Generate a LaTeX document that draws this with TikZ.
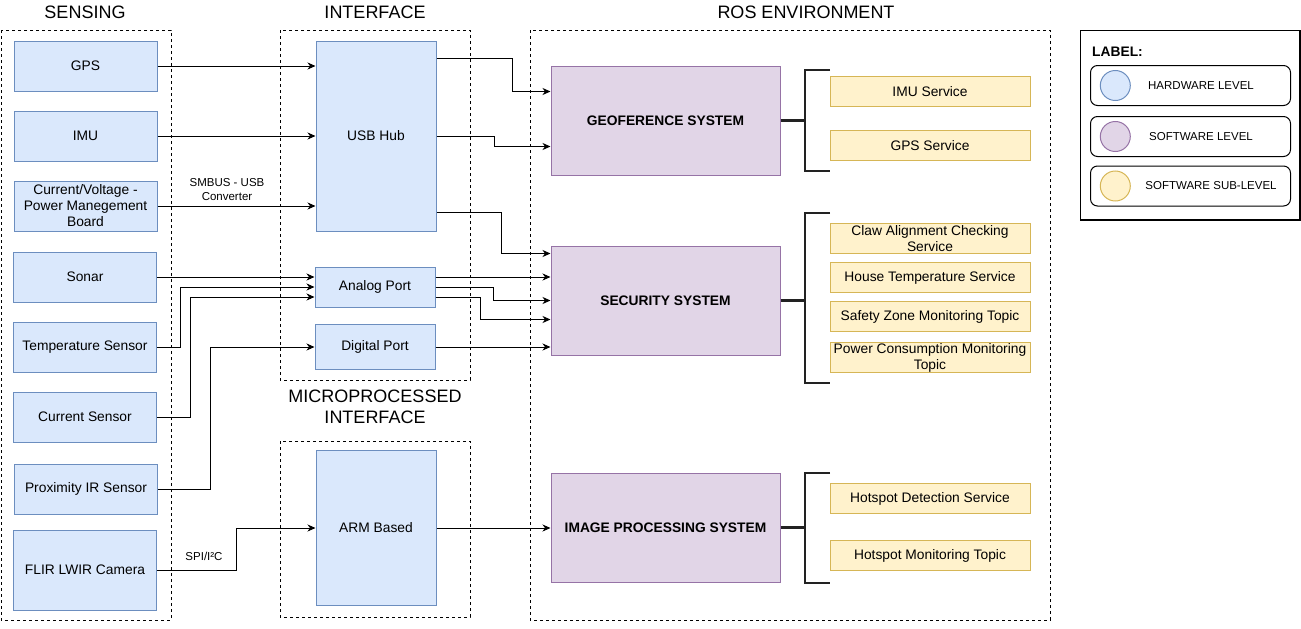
\documentclass[tikz,border=0pt]{standalone}
\usepackage{fontspec}
\setmainfont{Liberation Sans}
\usetikzlibrary{arrows.meta,calc}
\definecolor{hwfill}{HTML}{DAE8FC}
\definecolor{hwline}{HTML}{6C8EBF}
\definecolor{swfill}{HTML}{E1D5E7}
\definecolor{swline}{HTML}{9673A6}
\definecolor{subfill}{HTML}{FFF2CC}
\definecolor{subline}{HTML}{D6B656}
\definecolor{bracecol}{HTML}{222222}
\tikzset{
  base/.style={font=\fontsize{13.8}{16}\selectfont, align=center, inner sep=1pt},
  hw/.style={base, draw=hwline, fill=hwfill, line width=1pt},
  sw/.style={base, draw=swline, fill=swfill, line width=1pt, font=\fontsize{13.8}{16}\selectfont\bfseries},
  sub/.style={base, draw=subline, fill=subfill, line width=1pt, minimum width=200, minimum height=30},
  grp/.style={draw=black, line width=0.9pt, dash pattern=on 3pt off 3pt},
  title/.style={font=\fontsize{18}{21}\selectfont, align=center, inner sep=0pt},
  small/.style={font=\fontsize{11.5}{14}\selectfont, align=center, inner sep=0pt},
  arr/.style={line width=1pt, -{Stealth[length=8pt,width=7pt,inset=2.5pt]}},
  bracket/.style={draw=bracecol, line width=2.2pt},
  legitem/.style={draw=black, line width=1pt, rounded corners=7pt, minimum width=200, minimum height=40},
}
\begin{document}
\begin{tikzpicture}[x=1pt,y=-1pt]
\useasboundingbox (0,0) rectangle (1301,629);

% group frames
\draw[grp] (1,30) rectangle (171,620);
\draw[grp] (280,30) rectangle (470,380);
\draw[grp] (280,441) rectangle (470,617);
\draw[grp] (530,30) rectangle (1050,620);

% titles
\node[title] (tsens) at (85,12) {SENSING};
\node[title] (tint) at (375,12) {INTERFACE};
\node[title] (tros) at (806,12) {ROS ENVIRONMENT};
\node[title] (tmic) at (375,407) {MICROPROCESSED\\INTERFACE};

% sensing
\node[hw, minimum width=143, minimum height=50] (gps) at (85.5,66) {GPS};
\node[hw, minimum width=143, minimum height=50] (imu) at (85.5,136) {IMU};
\node[hw, minimum width=143, minimum height=50] (pwr) at (85.5,206) {Current/Voltage -\\Power Manegement\\Board};
\node[hw, minimum width=143, minimum height=50] (sonar) at (85,277) {Sonar};
\node[hw, minimum width=143, minimum height=50] (temp) at (85,347) {Temperature Sensor};
\node[hw, minimum width=143, minimum height=50] (cur) at (85,417) {Current Sensor};
\node[hw, minimum width=143, minimum height=50] (prox) at (86,489) {Proximity IR Sensor};
\node[hw, minimum width=143, minimum height=80] (flir) at (85,570) {FLIR LWIR Camera};

% interface
\node[hw, minimum width=120, minimum height=190] (usb) at (376,136) {USB Hub};
\node[hw, minimum width=120, minimum height=40] (analog) at (375,287) {Analog Port};
\node[hw, minimum width=120, minimum height=45] (digital) at (375,347) {Digital Port};
\node[hw, minimum width=120, minimum height=155] (arm) at (376,528) {ARM Based};

% ROS systems
\node[sw, minimum width=229, minimum height=109] (geo) at (665.5,120.5) {GEOFERENCE SYSTEM};
\node[sw, minimum width=229, minimum height=109] (sec) at (665.5,300.5) {SECURITY SYSTEM};
\node[sw, minimum width=229, minimum height=109] (img) at (665.5,527.5) {IMAGE PROCESSING SYSTEM};

% services
\node[sub] (imus) at (930,91.5) {IMU Service};
\node[sub] (gpss) at (930,145.5) {GPS Service};
\node[sub] (claw) at (930,238.5) {Claw Alignment Checking\\Service};
\node[sub] (house) at (930,277.5) {House Temperature Service};
\node[sub] (safe) at (930,316.5) {Safety Zone Monitoring Topic};
\node[sub] (powc) at (930,357.5) {Power Consumption Monitoring\\Topic};
\node[sub] (hdet) at (930,498.5) {Hotspot Detection Service};
\node[sub] (hmon) at (930,555.5) {Hotspot Monitoring Topic};

% brackets
\coordinate (gb) at (805,120.5);
\draw[bracket] (geo.east) -- (gb);
\draw[bracket] (830,70) -- (805,70) -- (805,171) -- (830,171);
\coordinate (sb) at (805,300.5);
\draw[bracket] (sec.east) -- (sb);
\draw[bracket] (830,213) -- (805,213) -- (805,383) -- (830,383);
\coordinate (ib) at (805,527.5);
\draw[bracket] (img.east) -- (ib);
\draw[bracket] (830,473) -- (805,473) -- (805,583) -- (830,583);

% helper coordinates
\coordinate (ain1) at ($(analog.west)+(0,-10)$);
\coordinate (ain3) at ($(analog.west)+(0,10)$);
\coordinate (aout1) at ($(analog.east)+(0,-10)$);
\coordinate (aout3) at ($(analog.east)+(0,10)$);
\coordinate (uout1) at ($(usb.north east)+(0,18)$);
\coordinate (uout3) at ($(usb.south east)+(0,-19)$);
\coordinate (gin1) at ($(geo.north west)+(0,26)$);
\coordinate (gin2) at ($(geo.north west)+(0,81)$);
\coordinate (sin1) at ($(sec.north west)+(0,8)$);
\coordinate (sin4) at ($(sec.north west)+(0,74)$);

% sensing -> interface
\draw[arr] (gps.east) -- (gps.east -| usb.west);
\draw[arr] (imu.east) -- (imu.east -| usb.west);
\draw[arr] (pwr.east) -- (pwr.east -| usb.west);
\node[small] (smb) at (227,190) {SMBUS - USB\\Converter};
\draw[arr] (sonar.east) -- (ain1);
\draw[arr] (temp.east) -- ++(23,0) |- (analog.west);
\draw[arr] (cur.east) -- ++(33,0) |- (ain3);
\draw[arr] (prox.east) -- ++(52,0) |- (digital.west);
\draw[arr] (flir.east) -- ++(79,0) |- (arm.west);
\node[small] (spi) at (204,556) {SPI/I²C};

% interface -> ROS
\draw[arr] (uout1) -- ++(76,0) |- (gin1);
\draw[arr] (usb.east) -- ++(58,0) |- (gin2);
\draw[arr] (uout3) -- ++(65,0) |- (sin1);
\draw[arr] (aout1) -- (aout1 -| sec.west);
\draw[arr] (analog.east) -- ++(58,0) |- (sec.west);
\draw[arr] (aout3) -- ++(45,0) |- (sin4);
\draw[arr] (digital.east) -- (digital.east -| sec.west);
\draw[arr] (arm.east) -- (arm.east -| img.west);

% legend
\draw[line width=1.2pt] (1080.5,30.5) rectangle (1300,220);
\node[anchor=west, inner sep=0pt, font=\fontsize{13.8}{16}\selectfont\bfseries] (lab) at (1092,52) {LABEL:};
\node[legitem] (l1) at (1190.5,85.5) {};
\node[legitem] (l2) at (1190.5,136.5) {};
\node[legitem] (l3) at (1190.5,186) {};
\node[circle, draw=hwline, fill=hwfill, line width=1pt, minimum size=30, inner sep=0pt] (c1) at (1115.3,85.5) {};
\node[circle, draw=swline, fill=swfill, line width=1pt, minimum size=30, inner sep=0pt] (c2) at (1115.3,136.5) {};
\node[circle, draw=subline, fill=subfill, line width=1pt, minimum size=30, inner sep=0pt] (c3) at (1115.3,186) {};
\node[small] (t1) at (1201,85.5) {HARDWARE LEVEL};
\node[small] (t2) at (1201,136.5) {SOFTWARE LEVEL};
\node[small] (t3) at (1211,186) {SOFTWARE SUB-LEVEL};
\end{tikzpicture}
\end{document}
